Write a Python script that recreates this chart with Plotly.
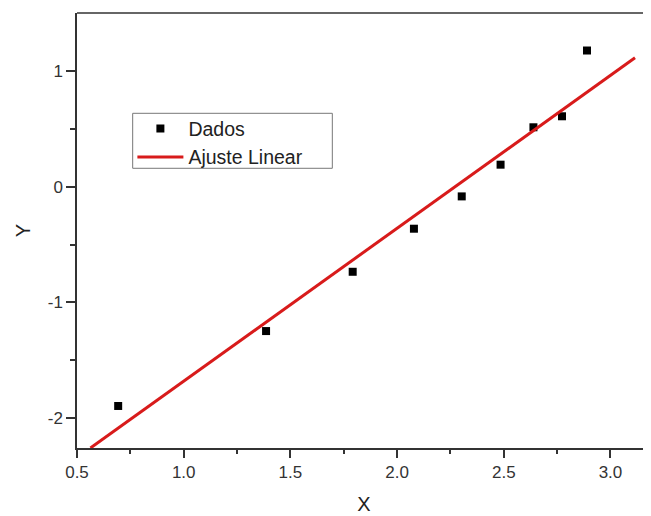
import plotly.graph_objects as go

# Data
x_data = [0.693, 1.386, 1.792, 2.079, 2.303, 2.485, 2.639, 2.773, 2.890]
y_data = [-1.894, -1.247, -0.735, -0.363, -0.084, 0.190, 0.513, 0.608, 1.176]

# Linear fit line endpoints (as drawn)
fit_x = [0.563, 3.115]
fit_y = [-2.257, 1.113]

x_ticks = [0.5, 1.0, 1.5, 2.0, 2.5, 3.0]
x_tick_labels = ["0.5", "1.0", "1.5", "2.0", "2.5", "3.0"]
y_ticks = [-2, -1, 0, 1]
y_tick_labels = ["-2", "-1", "0", "1"]

FONT = "Liberation Sans, Arial, sans-serif"
AXC = "#333333"

fig = go.Figure()
fig.add_trace(go.Scatter(
    x=x_data, y=y_data, mode="markers", name="Dados",
    marker=dict(symbol="square", size=8, color="black"),
    cliponaxis=False,
))
fig.add_trace(go.Scatter(
    x=fit_x, y=fit_y, mode="lines", name="Ajuste Linear",
    line=dict(color="#d81b1b", width=3),
))

# page body has an 8px default margin, so the figure is sized to fill the rest of the window
fig.update_layout(
    width=643, height=508,
    margin=dict(l=69, r=0, t=5, b=68, autoexpand=False),
    paper_bgcolor="white", plot_bgcolor="white",
    font=dict(family=FONT, color=AXC),
    showlegend=True,
    legend=dict(
        x=0.0965, y=0.7785, xanchor="left", yanchor="top",
        bgcolor="rgba(0,0,0,0)", borderwidth=0,
        font=dict(size=19.5, color="#222222"),
        itemwidth=46, tracegroupgap=0,
    ),
    xaxis=dict(
        range=[0.5, 3.19], autorange=False, automargin=False,
        tickmode="array", tickvals=x_ticks, ticktext=x_tick_labels,
        ticks="outside", ticklen=8, tickwidth=1.5, tickcolor=AXC,
        showline=True, linecolor=AXC, linewidth=1.5,
        showgrid=False, zeroline=False,
        tickfont=dict(size=17, color=AXC),
        minor=dict(tickvals=[0.75, 1.25, 1.75, 2.25, 2.75], ticks="outside", ticklen=4, tickwidth=1.5, tickcolor=AXC),
        title=dict(text="X", font=dict(size=20, color="#222222"), standoff=16),
    ),
    yaxis=dict(
        range=[-2.257, 1.50], autorange=False, automargin=False,
        tickmode="array", tickvals=y_ticks, ticktext=y_tick_labels,
        ticks="outside", ticklen=9, tickwidth=1.5, tickcolor=AXC,
        showline=True, linecolor=AXC, linewidth=1.5,
        showgrid=False, zeroline=False,
        tickfont=dict(size=17, color=AXC),
        minor=dict(tickvals=[-1.5, -0.5, 0.5], ticks="outside", ticklen=5, tickwidth=1.5, tickcolor=AXC),
        title=dict(text="Y", font=dict(size=20, color="#222222"), standoff=12),
    ),
    shapes=[
        dict(type="line", xref="paper", yref="paper", x0=0, x1=1, y0=1, y1=1,
             line=dict(color=AXC, width=1.5)),
        dict(type="rect", xref="paper", yref="paper", x0=0.0970, x1=0.4448, y0=0.643, y1=0.7694,
             line=dict(color="#777777", width=1), fillcolor="rgba(0,0,0,0)", layer="below"),
    ],
)

fig.write_html("out.html")
